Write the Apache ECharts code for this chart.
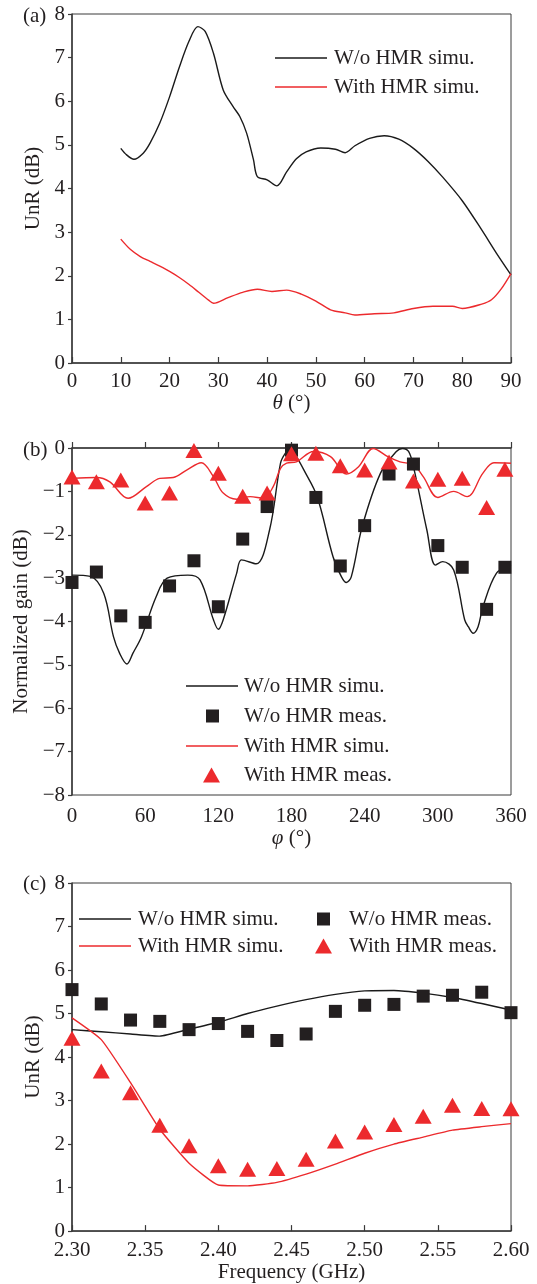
<!DOCTYPE html>
<html>
<head>
<meta charset="utf-8">
<script src="https://cdn.jsdelivr.net/npm/echarts@6/dist/echarts.min.js"></script>
<style>
  html, body { margin: 0; padding: 0; background: #fff; }
  #chart { width: 537px; height: 1284px; }
</style>
</head>
<body>
<div id="chart"></div>
<script>
// (a) UnR versus elevation angle theta
const thetaWoSim = [10, 11.2, 12.7, 14.6, 16, 18, 20, 22, 24, 25.8, 27.3, 29, 31, 33, 34.4, 35.8, 37.2, 38, 40, 42, 44, 46, 48, 51, 54, 56, 58, 61, 64, 67, 70, 73, 76, 80, 84, 87, 90];
const unrWoSim   = [4.92, 4.77, 4.67, 4.81, 5.04, 5.5, 6.1, 6.78, 7.38, 7.71, 7.6, 7.1, 6.26, 5.88, 5.65, 5.27, 4.66, 4.27, 4.2, 4.06, 4.38, 4.68, 4.84, 4.93, 4.9, 4.82, 4.98, 5.15, 5.21, 5.13, 4.92, 4.62, 4.26, 3.72, 3.05, 2.52, 2.02];
const thetaWithSim = [10, 12, 14, 16, 18, 20, 22, 24, 26, 28, 29, 32, 35, 38, 41, 44, 47, 50, 53, 56, 58, 62, 66, 70, 74, 78, 80, 84, 86, 88, 90];
const unrWithSim   = [2.84, 2.6, 2.44, 2.33, 2.22, 2.1, 1.96, 1.8, 1.62, 1.44, 1.37, 1.5, 1.62, 1.69, 1.64, 1.67, 1.58, 1.42, 1.22, 1.15, 1.1, 1.13, 1.15, 1.25, 1.3, 1.3, 1.25, 1.35, 1.45, 1.7, 2.05];

// (b) normalized gain versus azimuth phi
const phiWoSim  = [0, 15, 26, 34, 39, 45, 50, 57, 69, 78, 95, 105, 116, 120, 124, 135, 139, 151, 162, 171, 175, 179, 184, 190, 201, 214, 221, 225, 229, 238, 253, 266, 271, 276, 280, 291, 298, 304, 313, 322, 325, 329, 333, 337, 348, 360];
const gainWoSim = [-2.93, -2.96, -3.35, -4.35, -4.73, -4.98, -4.73, -4.35, -3.43, -3.0, -2.93, -3.04, -3.96, -4.18, -3.96, -2.89, -2.58, -2.67, -1.89, -0.35, -0.12, -0.02, -0.2, -0.5, -1.12, -2.5, -2.97, -3.1, -2.97, -1.81, -0.58, -0.08, -0.01, -0.08, -0.43, -1.89, -2.7, -2.62, -2.81, -3.96, -4.12, -4.27, -4.12, -3.66, -2.89, -2.7];
const phiWithSim  = [0, 20, 31, 46, 61, 72, 83, 94, 106, 116, 124, 135, 146, 157, 165, 171, 176, 184, 198, 212, 225, 235, 247, 259, 269, 280, 288, 300, 313, 324, 337, 346, 360];
const gainWithSim = [-0.7, -0.68, -0.78, -1.16, -0.89, -0.7, -0.68, -0.51, -0.34, -0.66, -1.04, -1.18, -1.12, -1.16, -0.89, -0.47, -0.35, -0.32, -0.08, -0.2, -0.6, -0.43, -0.01, -0.2, -0.32, -0.39, -0.66, -1.14, -1.0, -1.12, -0.58, -0.34, -0.35];
const phiMeas      = [0, 20, 40, 60, 80, 100, 120, 140, 160, 180, 200, 220, 240, 260, 280, 300, 320, 340, 355];
const gainWoMeas   = [-3.1, -2.86, -3.87, -4.02, -3.18, -2.6, -3.66, -2.1, -1.35, -0.05, -1.14, -2.72, -1.79, -0.6, -0.37, -2.25, -2.75, -3.72, -2.75];
const gainWithMeas = [-0.67, -0.78, -0.74, -1.27, -1.04, -0.06, -0.58, -1.11, -1.04, -0.13, -0.12, -0.41, -0.51, -0.32, -0.76, -0.72, -0.7, -1.37, -0.49];

// (c) UnR versus frequency
const freqGHz     = [2.30, 2.32, 2.34, 2.36, 2.38, 2.40, 2.42, 2.44, 2.46, 2.48, 2.50, 2.52, 2.54, 2.56, 2.58, 2.60];
const unrCWoSim   = [4.63, 4.58, 4.53, 4.48, 4.64, 4.80, 5.0, 5.17, 5.32, 5.44, 5.52, 5.53, 5.47, 5.37, 5.23, 5.08];
const unrCWithSim = [4.9, 4.4, 3.41, 2.34, 1.56, 1.06, 1.04, 1.12, 1.31, 1.54, 1.79, 2.0, 2.16, 2.32, 2.4, 2.47];
const unrCWoMeas  = [5.55, 5.22, 4.85, 4.82, 4.63, 4.77, 4.59, 4.38, 4.53, 5.05, 5.19, 5.21, 5.4, 5.42, 5.49, 5.02];
const unrCWithMeas= [4.43, 3.68, 3.18, 2.43, 1.96, 1.5, 1.42, 1.44, 1.65, 2.07, 2.28, 2.45, 2.64, 2.89, 2.82, 2.81];

const NAME_WO_SIM = 'W/o HMR simu.';
const NAME_WO_MEAS = 'W/o HMR meas.';
const NAME_WITH_SIM = 'With HMR simu.';
const NAME_WITH_MEAS = 'With HMR meas.';

const FONT = "'Liberation Serif', 'DejaVu Serif', serif";
const INK = '#231f20';
const RED = '#ec2a2d';
const AXIS = '#3a3a3a';

const zip = (xs, ys) => xs.map((x, i) => [x, ys[i]]);
const minus = v => String(v).replace('-', '\u2212');

const grids = [
  { left: 72, top: 14, width: 439, height: 349 },
  { left: 72, top: 448, width: 439, height: 347 },
  { left: 72, top: 883, width: 439, height: 349 }
].map(g => Object.assign(g, { show: true, borderColor: AXIS, borderWidth: 1, backgroundColor: 'transparent' }));

function xAxisFor(i, min, max, interval, name, labelMargin, nameGap, fmt) {
  return {
    gridIndex: i, type: 'value', min, max, interval,
    name, nameLocation: 'middle', nameGap,
    nameTextStyle: {
      fontFamily: FONT, fontSize: 21, color: INK,
      rich: { i: { fontFamily: FONT, fontSize: 21, fontStyle: 'italic', color: INK } }
    },
    axisLine: { show: true, lineStyle: { color: AXIS, width: 1.5 } },
    axisTick: { show: true, inside: true, length: 6, lineStyle: { color: AXIS, width: 1.2 } },
    axisLabel: { fontFamily: FONT, fontSize: 21, color: INK, margin: labelMargin, formatter: fmt },
    splitLine: { show: false }
  };
}
function yAxisFor(i, min, max, name, gap, fmt) {
  return {
    gridIndex: i, type: 'value', min, max, interval: 1,
    name, nameLocation: 'middle', nameGap: gap,
    nameTextStyle: { fontFamily: FONT, fontSize: 21, color: INK },
    axisLine: { show: true, lineStyle: { color: AXIS, width: 1.5 } },
    axisTick: { show: true, inside: false, length: 4, lineStyle: { color: AXIS, width: 1.2 } },
    axisLabel: { fontFamily: FONT, fontSize: 21, color: INK, margin: 7, formatter: fmt },
    splitLine: { show: false }
  };
}

function simLine(name, i, data, color, smooth) {
  return {
    name, type: 'line', xAxisIndex: i, yAxisIndex: i, data,
    symbol: 'none', showSymbol: false, smooth,
    lineStyle: { color, width: 1.4 }, itemStyle: { color },
    z: 3
  };
}
function measPoints(name, i, data, color, symbol, size) {
  return {
    name, type: 'scatter', xAxisIndex: i, yAxisIndex: i, data,
    symbol, symbolSize: size, itemStyle: { color, opacity: 1 },
    clip: false, z: 4
  };
}

// one legend component per row so every swatch and label can sit exactly;
// simulated curves get a thin bar as their swatch, measurements their marker
function legendRow(name, kind, left, centerY, textPad) {
  const isLine = kind === 'line';
  const w = isLine ? 52 : (kind === 'rect' ? 13 : 17);
  const h = isLine ? 1.5 : (kind === 'rect' ? 13 : 15);
  return {
    data: [{ name, icon: isLine ? 'rect' : kind }], left, top: centerY - 11,
    orient: 'horizontal', padding: 0,
    itemWidth: w, itemHeight: h, selectedMode: false,
    textStyle: { fontFamily: FONT, fontSize: 21, color: INK, lineHeight: 22, padding: [0, 0, 0, textPad] }
  };
}

const option = {
  animation: false,
  backgroundColor: '#fff',
  grid: grids,
  xAxis: [
    xAxisFor(0, 0, 90, 10, '{i|\u03b8} (\u00b0)', 8, 22),
    xAxisFor(1, 0, 360, 60, '{i|\u03c6} (\u00b0)', 11, 30),
    xAxisFor(2, 2.30, 2.60, 0.05, 'Frequency (GHz)', 9, 27, v => v.toFixed(2))
  ],
  yAxis: [
    yAxisFor(0, 0, 8, 'UnR (dB)', 24),
    yAxisFor(1, -8, 0, 'Normalized gain (dB)', 37, minus),
    yAxisFor(2, 0, 8, 'UnR (dB)', 24)
  ],
  legend: [
    legendRow(NAME_WO_SIM, 'line', 275, 58, 2),
    legendRow(NAME_WITH_SIM, 'line', 275, 87, 2),

    legendRow(NAME_WO_SIM, 'line', 186, 686, 1),
    legendRow(NAME_WO_MEAS, 'rect', 206, 716, 20),
    legendRow(NAME_WITH_SIM, 'line', 186, 746, 1),
    legendRow(NAME_WITH_MEAS, 'triangle', 203, 775, 19),

    legendRow(NAME_WO_SIM, 'line', 79, 919, 2),
    legendRow(NAME_WITH_SIM, 'line', 79, 946, 2),
    legendRow(NAME_WO_MEAS, 'rect', 317, 919, 14),
    legendRow(NAME_WITH_MEAS, 'triangle', 315, 946, 12)
  ],
  graphic: [
    { type: 'text', left: 23, top: 6, style: { text: '(a)', font: '21px ' + FONT, fill: INK } },
    { type: 'text', left: 23, top: 440, style: { text: '(b)', font: '21px ' + FONT, fill: INK } },
    { type: 'text', left: 23, top: 874, style: { text: '(c)', font: '21px ' + FONT, fill: INK } }
  ],
  series: [
    simLine(NAME_WO_SIM, 0, zip(thetaWoSim, unrWoSim), '#1a1a1a', 0.3),
    simLine(NAME_WITH_SIM, 0, zip(thetaWithSim, unrWithSim), RED, 0.3),

    simLine(NAME_WO_SIM, 1, zip(phiWoSim, gainWoSim), '#1a1a1a', 0.35),
    measPoints(NAME_WO_MEAS, 1, zip(phiMeas, gainWoMeas), INK, 'rect', 13),
    simLine(NAME_WITH_SIM, 1, zip(phiWithSim, gainWithSim), RED, 0.35),
    measPoints(NAME_WITH_MEAS, 1, zip(phiMeas, gainWithMeas), RED, 'triangle', [17, 15]),

    simLine(NAME_WO_SIM, 2, zip(freqGHz, unrCWoSim), '#1a1a1a', 0.15),
    simLine(NAME_WITH_SIM, 2, zip(freqGHz, unrCWithSim), RED, 0.15),
    measPoints(NAME_WO_MEAS, 2, zip(freqGHz, unrCWoMeas), INK, 'rect', 13),
    measPoints(NAME_WITH_MEAS, 2, zip(freqGHz, unrCWithMeas), RED, 'triangle', [17, 15])
  ]
};

const chart = echarts.init(document.getElementById('chart'), null, { renderer: 'canvas' });
chart.setOption(option);
</script>
</body>
</html>
